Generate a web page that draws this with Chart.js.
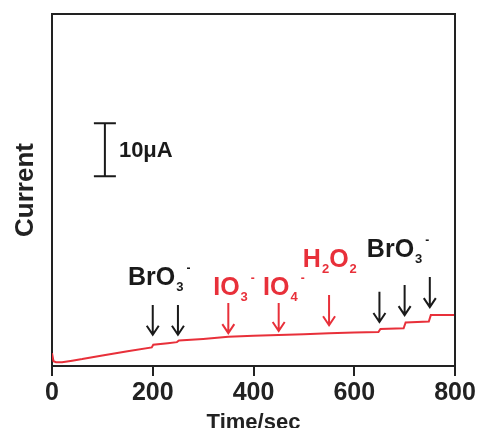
<!DOCTYPE html>
<html>
<head>
<meta charset="utf-8">
<script src="https://cdn.jsdelivr.net/npm/chart.js@4"></script>
<style>
  body { margin: 0; background: #fff; }
  canvas { display: block; }
</style>
</head>
<body>
<canvas id="chart" width="481" height="428"></canvas>
<script>
// ---------- DATA ----------
const times   = [0, 3, 8, 20, 40, 60, 100, 150, 198, 201, 230, 248, 252, 300, 350, 400, 450, 500, 550, 600, 648, 652, 698, 702, 748, 752, 800];
const current = [2.4, 0.9, 0.7, 0.7, 1.0, 1.3, 2.0, 2.8, 3.5, 4.0, 4.3, 4.5, 4.8, 5.1, 5.5, 5.7, 5.85, 6.0, 6.2, 6.3, 6.4, 7.0, 7.1, 8.2, 8.4, 9.6, 9.6];
const xTicks  = [0, 200, 400, 600, 800];

// injection arrows: time, top value, bottom value
const arrowTimes  = [200, 250, 350, 450, 550, 650, 700, 750];
const arrowTop    = [11.5, 11.5, 11.9, 11.9, 13.4, 14.0, 15.3, 16.8];
const arrowBottom = [5.9, 5.9, 6.2, 6.6, 7.7, 8.3, 9.6, 11.1];
const arrowRed    = [false, false, true, true, true, false, false, false];

const BLACK = '#1a1a1a';
const RED = '#e8303a';

// labels: x (sec), baseline (uA), parts
const labelDefs = [
    { x: 151, y: 15.3, red: false, parts: [['BrO', ''], ['3', 'sub'], ['-', 'sup']] },
    { x: 320, y: 13.4, red: true,  parts: [['IO', ''], ['3', 'sub'], ['-', 'sup']] },
    { x: 419, y: 13.4, red: true,  parts: [['IO', ''], ['4', 'sub'], ['-', 'sup']] },
    { x: 498, y: 18.7, red: true,  parts: [['H', ''], ['2', 'sub'], ['O', ''], ['2', 'sub']] },
    { x: 625, y: 20.6, red: false, parts: [['BrO', ''], ['3', 'sub'], ['-', 'sup']] }
];

// scale bar
const scaleBarX = 105;
const scaleBarFrom = 35.8;
const scaleBarTo = 45.8;
const scaleBarText = '10\u03bcA';

const FONT = '"Liberation Sans", Arial, sans-serif';

// ---------- PLUGIN: frame, arrows, labels ----------
const decorations = {
    id: 'decorations',
    afterDatasetsDraw(chart) {
        const { ctx, chartArea, scales } = chart;
        const xs = scales.x, ys = scales.y;
        ctx.save();

        // top + right frame
        ctx.strokeStyle = '#222';
        ctx.lineWidth = 2;
        ctx.beginPath();
        ctx.moveTo(chartArea.left, chartArea.top);
        ctx.lineTo(chartArea.right, chartArea.top);
        ctx.lineTo(chartArea.right, chartArea.bottom);
        ctx.stroke();

        // arrows
        arrowTimes.forEach((t, i) => {
            const x = xs.getPixelForValue(t);
            const y1 = ys.getPixelForValue(arrowTop[i]);
            const y2 = ys.getPixelForValue(arrowBottom[i]);
            ctx.strokeStyle = arrowRed[i] ? RED : BLACK;
            ctx.lineWidth = 2;
            ctx.beginPath();
            ctx.moveTo(x, y1);
            ctx.lineTo(x, y2);
            ctx.moveTo(x - 6, y2 - 9);
            ctx.lineTo(x, y2);
            ctx.lineTo(x + 6, y2 - 9);
            ctx.stroke();
        });

        // labels with sub/superscripts
        labelDefs.forEach(l => {
            let x = xs.getPixelForValue(l.x);
            const y = ys.getPixelForValue(l.y);
            ctx.fillStyle = l.red ? RED : BLACK;
            ctx.textBaseline = 'alphabetic';
            ctx.textAlign = 'left';
            l.parts.forEach(([txt, kind]) => {
                if (kind === 'sub') {
                    ctx.font = 'bold 13px ' + FONT;
                    ctx.fillText(txt, x + 1, y + 6);
                    x += ctx.measureText(txt).width + 1;
                } else if (kind === 'sup') {
                    ctx.font = 'bold 12px ' + FONT;
                    ctx.fillText(txt, x + 3, y - 13);
                    x += ctx.measureText(txt).width + 3;
                } else {
                    ctx.font = 'bold 25px ' + FONT;
                    ctx.fillText(txt, x, y);
                    x += ctx.measureText(txt).width;
                }
            });
        });

        // scale bar
        const bx = xs.getPixelForValue(scaleBarX);
        const by1 = ys.getPixelForValue(scaleBarTo);
        const by2 = ys.getPixelForValue(scaleBarFrom);
        ctx.strokeStyle = BLACK;
        ctx.lineWidth = 2;
        ctx.beginPath();
        ctx.moveTo(bx - 11, by1); ctx.lineTo(bx + 11, by1);
        ctx.moveTo(bx, by1); ctx.lineTo(bx, by2);
        ctx.moveTo(bx - 11, by2); ctx.lineTo(bx + 11, by2);
        ctx.stroke();
        ctx.fillStyle = BLACK;
        ctx.font = 'bold 22px ' + FONT;
        ctx.textBaseline = 'middle';
        ctx.fillText(scaleBarText, bx + 14, (by1 + by2) / 2 + 1);

        ctx.restore();
    }
};

// ---------- CHART ----------
const ctx = document.getElementById('chart').getContext('2d');
new Chart(ctx, {
    type: 'line',
    data: {
        datasets: [{
            data: times.map((t, i) => ({ x: t, y: current[i] })),
            borderColor: RED,
            borderWidth: 2,
            pointRadius: 0,
            tension: 0,
            fill: false
        }]
    },
    options: {
        responsive: false,
        animation: false,
        layout: { padding: { top: 14, right: 26, left: 0, bottom: 0 } },
        plugins: { legend: { display: false }, tooltip: { enabled: false } },
        scales: {
            x: {
                type: 'linear',
                min: 0,
                max: 800,
                afterBuildTicks: axis => { axis.ticks = xTicks.map(v => ({ value: v })); },
                afterFit: axis => { axis.height = 62; },
                border: { display: true, color: '#222', width: 2 },
                grid: { drawOnChartArea: false, drawTicks: true, tickLength: 10, color: '#222', lineWidth: 2 },
                ticks: {
                    color: '#222',
                    padding: 2,
                    maxRotation: 0,
                    font: { family: FONT, size: 25, weight: 'bold' }
                },
                title: {
                    display: true,
                    text: 'Time/sec',
                    color: '#222',
                    padding: { top: 0, bottom: 0 },
                    font: { family: FONT, size: 22, weight: 'bold', lineHeight: 0.5 }
                }
            },
            y: {
                type: 'linear',
                min: 0,
                max: 66.4,
                afterFit: axis => { axis.width = 52; },
                border: { display: true, color: '#222', width: 2 },
                grid: { display: false },
                ticks: { display: false },
                title: {
                    display: true,
                    text: 'Current',
                    color: '#222',
                    padding: { top: 10, bottom: 0 },
                    font: { family: FONT, size: 26, weight: 'bold' }
                }
            }
        }
    },
    plugins: [decorations]
});
</script>
</body>
</html>
